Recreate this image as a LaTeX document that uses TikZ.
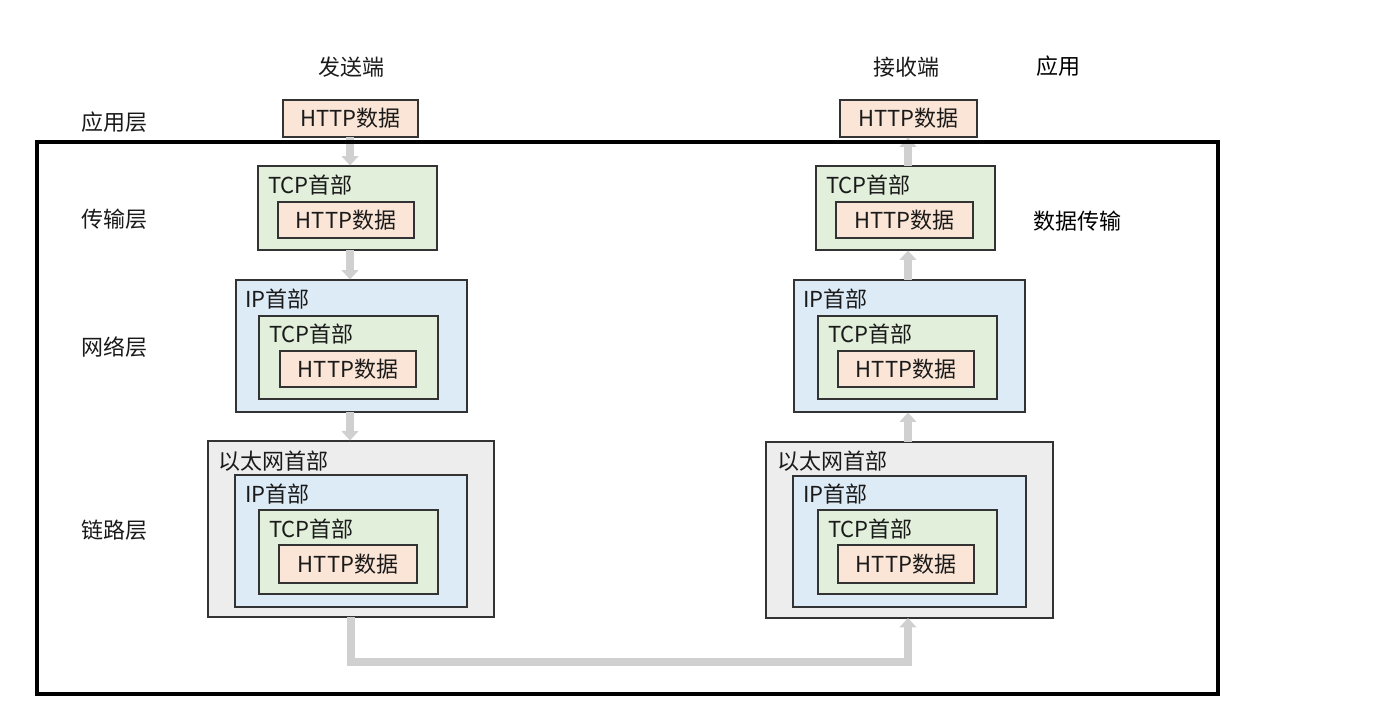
\documentclass[tikz,border=0pt]{standalone}
\usepackage{fontspec}
\setmainfont{Noto Sans CJK SC}
\usetikzlibrary{fit,arrows.meta}
\definecolor{httpc}{HTML}{FBE5D6}
\definecolor{tcpc}{HTML}{E2EFDA}
\definecolor{ipc}{HTML}{DDEBF7}
\definecolor{ethc}{HTML}{EDEDED}
\definecolor{edgec}{HTML}{333333}
\definecolor{arrc}{HTML}{D0D0D0}
\definecolor{txtc}{HTML}{1A1A1A}
\tikzset{
  box/.style={draw=edgec, line width=0.9pt, inner sep=0pt},
  httpb/.style={box, fill=httpc},
  tcpb/.style={box, fill=tcpc},
  ipb/.style={box, fill=ipc},
  ethb/.style={box, fill=ethc},
  txt/.style={inner sep=0pt, text=txtc, font=\fontsize{16.5}{20}\selectfont},
  hdr/.style={txt, anchor=west},
  side/.style={txt},
  flow/.style={draw=arrc, line width=6pt, -{Triangle[width=12.5pt,length=7pt]}},
  frame/.style={draw=black, line width=3pt, inner sep=0pt}
}
\begin{document}
\begin{tikzpicture}[x=0.75pt,y=-0.75pt]
\useasboundingbox (0,0) rectangle (1400,722);
% side labels
\node[side] (snd) at (351,67) {发送端};
\node[side] (rcv) at (906,67) {接收端};
\node[side, text=black] (app) at (1058,66) {应用};
\node[side, text=black] (dt) at (1077,221) {数据传输};
\node[side] (L1) at (114,122) {应用层};
\node[side] (L2) at (114,219) {传输层};
\node[side] (L3) at (114,347) {网络层};
\node[side] (L4) at (114,530) {链路层};

% ---- sender ----
\node[httpb, fit={(283,100) (418,137)}] (l0) {};
\node[txt] (l0x) at (l0.center) {HTTP数据};
\node[tcpb, fit={(258,166) (437,250)}] (l1) {};
\node[hdr] (l1t) at (268,185) {TCP首部};
\node[httpb, fit={(278,202) (414,238)}] (l1h) {};
\node[txt] (l1hx) at (l1h.center) {HTTP数据};

\node[ipb, fit={(236,280) (467,412)}] (l2) {};
\node[hdr] (l2i) at (245,299) {IP首部};
\node[tcpb, fit={(259,316) (438,399)}] (l2t) {};
\node[hdr] (l2tt) at (269,334) {TCP首部};
\node[httpb, fit={(280,351) (416,387)}] (l2h) {};
\node[txt] (l2hx) at (l2h.center) {HTTP数据};

\node[ethb, fit={(208,441) (494,617)}] (l3) {};
\node[hdr] (l3e) at (218,461) {以太网首部};
\node[ipb, fit={(235,475) (467,607)}] (l3i) {};
\node[hdr] (l3it) at (245,494) {IP首部};
\node[tcpb, fit={(259,510) (438,594)}] (l3t) {};
\node[hdr] (l3tt) at (269,529) {TCP首部};
\node[httpb, fit={(279,545) (417,583)}] (l3h) {};
\node[txt] (l3hx) at (l3h.center) {HTTP数据};

% ---- receiver ----
\node[httpb, fit={(840,100) (977,137)}] (r0) {};
\node[txt] (r0x) at (r0.center) {HTTP数据};
\node[tcpb, fit={(816,166) (995,250)}] (r1) {};
\node[hdr] (r1t) at (826,185) {TCP首部};
\node[httpb, fit={(836,202) (973,238)}] (r1h) {};
\node[txt] (r1hx) at (r1h.center) {HTTP数据};

\node[ipb, fit={(794,280) (1025,412)}] (r2) {};
\node[hdr] (r2i) at (803,299) {IP首部};
\node[tcpb, fit={(818,316) (997,399)}] (r2t) {};
\node[hdr] (r2tt) at (828,334) {TCP首部};
\node[httpb, fit={(838,351) (974,387)}] (r2h) {};
\node[txt] (r2hx) at (r2h.center) {HTTP数据};

\node[ethb, fit={(766,442) (1053,618)}] (r3) {};
\node[hdr] (r3e) at (777,461) {以太网首部};
\node[ipb, fit={(793,476) (1026,607)}] (r3i) {};
\node[hdr] (r3it) at (803,494) {IP首部};
\node[tcpb, fit={(818,510) (997,594)}] (r3t) {};
\node[hdr] (r3tt) at (828,529) {TCP首部};
\node[httpb, fit={(838,545) (974,583)}] (r3h) {};
\node[txt] (r3hx) at (r3h.center) {HTTP数据};

% ---- arrows ----
\coordinate (ls) at (350,137);
\draw[flow] (ls) -- (ls |- l1.north);
\coordinate (ls2) at (350,250);
\draw[flow] (ls2) -- (ls2 |- l2.north);
\coordinate (ls3) at (350,412);
\draw[flow] (ls3) -- (ls3 |- l3.north);

\coordinate (rs3) at (908,442);
\draw[flow] (rs3) -- (rs3 |- r2.south);
\coordinate (rs2) at (908,280);
\draw[flow] (rs2) -- (rs2 |- r1.south);
\coordinate (rs1) at (908,166);
\draw[flow] (rs1) -- (rs1 |- r0.south);

\coordinate (bl) at (351,617);
\coordinate (bm) at (351,662);
\coordinate (br) at (908,618);
\draw[flow] (bl) -- (bm) -| (br);

% frame
\node[frame, fit={(37,142) (1218,694)}] (frm) {};
\end{tikzpicture}
\end{document}
